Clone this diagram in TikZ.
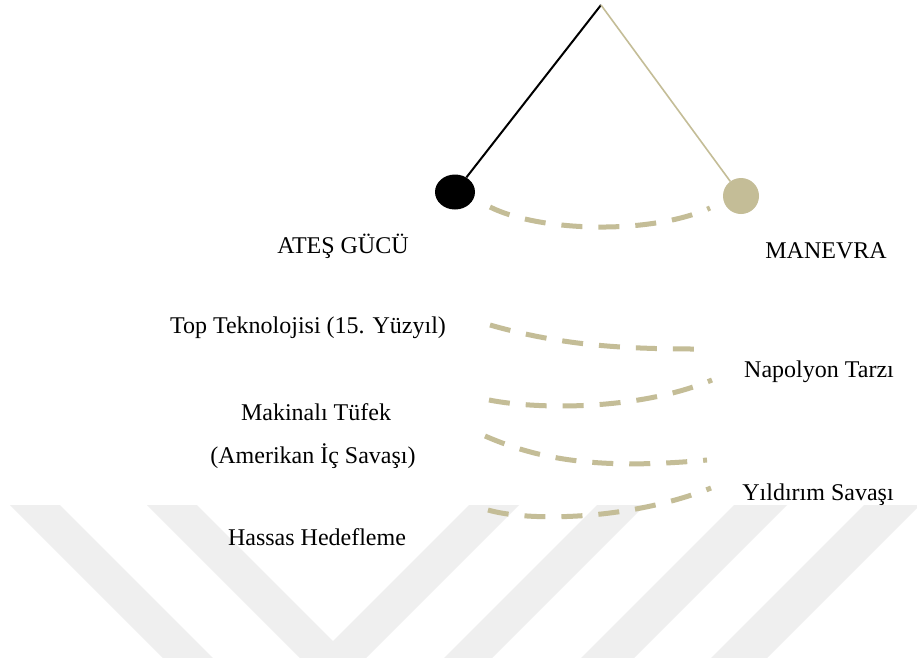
\documentclass[tikz,border=0pt]{standalone}
\usepackage{fontspec}
\setmainfont{Liberation Serif}
\usetikzlibrary{shapes.geometric}
\definecolor{tan}{HTML}{C4BD97}
\definecolor{mark}{HTML}{EFEFEF}
\tikzset{
  label/.style={anchor=base, inner sep=0pt, font=\fontsize{24}{28}\selectfont},
  swing/.style={draw=tan, line width=5pt, dash pattern=on 21pt off 16pt},
  band/.style={fill=mark, draw=none}
}
\begin{document}
\begin{tikzpicture}[x=1pt, y=-1pt]
\useasboundingbox (0,0) rectangle (917,657);
\fill[white] (0,0) rectangle (917,657);

% faint chevron bands along the bottom
\begin{scope}
\clip (0,0) rectangle (917,657);
\path[band] (10,505) -- (60,505) -- (255,700) -- (205,700) -- cycle;
\path[band] (147,505) -- (333,691) -- (519,505) -- (469,505) -- (333,641) -- (197,505) -- cycle;
\path[band] (597,505) -- (645,505) -- (450,700) -- (402,700) -- cycle;
\path[band] (734,505) -- (787,505) -- (592,700) -- (539,700) -- cycle;
\path[band] (864,505) -- (920,505) -- (725,700) -- (669,700) -- cycle;
\end{scope}

% pendulum
\coordinate (pivot) at (601,5);
\node[ellipse, fill=black, minimum width=40pt, minimum height=35pt, inner sep=0pt] (fire) at (455,192) {};
\node[circle, fill=tan, minimum size=36pt, inner sep=0pt] (move) at (741,196) {};
\draw[black, line width=2pt] (pivot) -- (fire);
\draw[tan, line width=1.6pt] (pivot) -- (move);

% swing arcs
\coordinate (a0) at (490,207); \coordinate (b0) at (710,208);
\coordinate (a1) at (490,325); \coordinate (b1) at (697,349);
\coordinate (a2) at (489,400); \coordinate (b2) at (712,380);
\coordinate (a3) at (485,436); \coordinate (b3) at (707,460);
\coordinate (a4) at (488,510); \coordinate (b4) at (711,488);
\draw[swing] (a0) .. controls (540,232) and (650,235) .. (b0);
\draw[swing] (a1) .. controls (560,345) and (620,349) .. (b1);
\draw[swing] (a2) .. controls (540,410) and (640,410) .. (b2);
\draw[swing] (a3) .. controls (540,460) and (600,470) .. (b3);
\draw[swing] (a4) .. controls (530,522) and (630,520) .. (b4);

% labels
\node[label] (t1) at (343,253) {ATEŞ GÜCÜ};
\node[label] (t2) at (826,258) {MANEVRA};
\node[label] (t3) at (308,333) {Top Teknolojisi (15. Yüzyıl)};
\node[label] (t4) at (819,377) {Napolyon Tarzı};
\node[label] (t5) at (316,420) {Makinalı Tüfek};
\node[label] (t6) at (313,463) {(Amerikan İç Savaşı)};
\node[label] (t7) at (818,500) {Yıldırım Savaşı};
\node[label] (t8) at (317,545) {Hassas Hedefleme};
\end{tikzpicture}
\end{document}
